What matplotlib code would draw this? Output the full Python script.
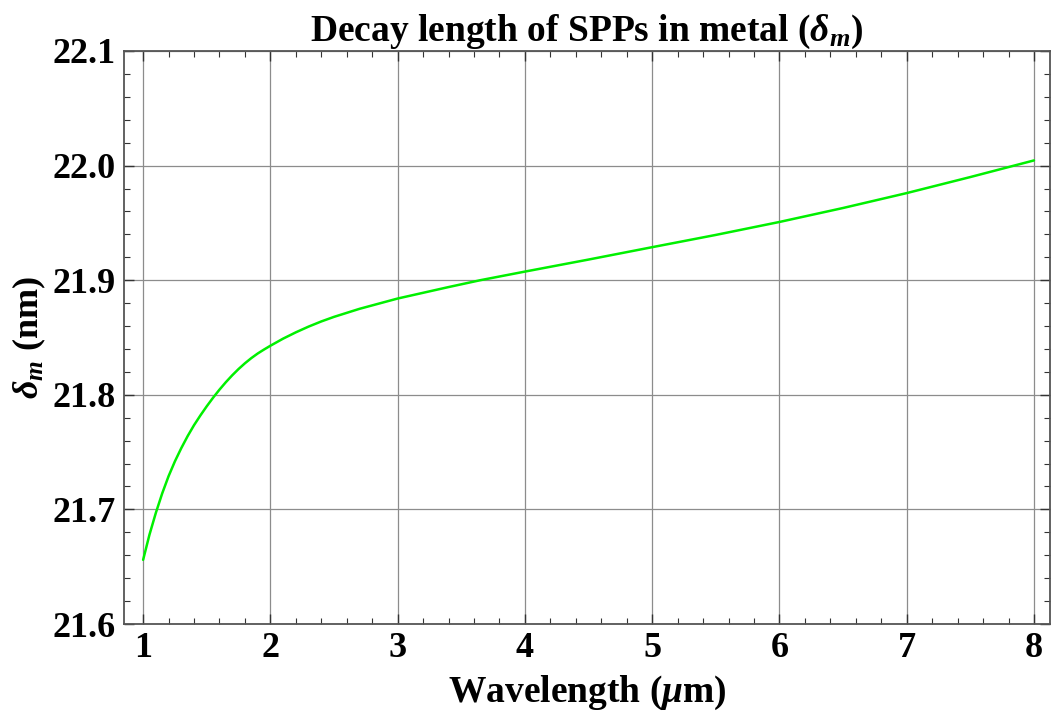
import matplotlib
matplotlib.use("Agg")
import matplotlib.pyplot as plt
from matplotlib.ticker import MultipleLocator

# Data
wavelength_um = [1.00, 1.05, 1.10, 1.15, 1.20, 1.25, 1.30, 1.35, 1.40, 1.45,
                 1.50, 1.55, 1.60, 1.65, 1.70, 1.75, 1.80, 1.85, 1.90, 1.95,
                 2.0, 2.1, 2.2, 2.3, 2.4, 2.5, 2.6, 2.7, 2.8, 2.9,
                 3.0, 3.2, 3.4, 3.65, 4.0, 4.5, 5.0, 5.5, 6.0, 6.5,
                 7.0, 7.5, 8.0]
delta_m_nm = [21.656, 21.678, 21.697, 21.714, 21.729, 21.742, 21.7535, 21.764,
              21.7735, 21.782, 21.790, 21.7975, 21.8045, 21.811, 21.817,
              21.8225, 21.8275, 21.832, 21.836, 21.8395,
              21.8428, 21.849, 21.8545, 21.8595, 21.864, 21.868, 21.8715,
              21.875, 21.878, 21.881,
              21.884, 21.889, 21.894, 21.900, 21.9075, 21.918, 21.9288,
              21.9395, 21.9508, 21.963, 21.976, 21.990, 22.0045]
x_ticks = [1, 2, 3, 4, 5, 6, 7, 8]
y_ticks = [21.6, 21.7, 21.8, 21.9, 22.0, 22.1]
y_tick_labels = ["21.6", "21.7", "21.8", "21.9", "22.0", "22.1"]

plt.rcParams["font.family"] = ["Liberation Serif", "DejaVu Serif"]
plt.rcParams["font.weight"] = "bold"
plt.rcParams["mathtext.fontset"] = "custom"
plt.rcParams["mathtext.rm"] = "Liberation Serif:bold"
plt.rcParams["mathtext.it"] = "Liberation Serif:italic:bold"
plt.rcParams["mathtext.bf"] = "Liberation Serif:bold"

fig = plt.figure(figsize=(10.52, 7.24), dpi=100)
ax = fig.add_axes([0.1179, 0.1381, 0.8801, 0.7915])

ax.plot(wavelength_um, delta_m_nm, color="#00f000", lw=1.8,
        solid_capstyle="round", solid_joinstyle="round")

ax.set_xlim(0.85, 8.125)
ax.set_ylim(21.6, 22.1)
ax.set_xticks(x_ticks)
ax.set_yticks(y_ticks)
ax.set_yticklabels(y_tick_labels)
ax.xaxis.set_minor_locator(MultipleLocator(0.2))
ax.yaxis.set_minor_locator(MultipleLocator(0.02))

ax.grid(True, which="major", color="#8c8c8c", lw=0.9)
ax.set_axisbelow(True)

ax.tick_params(which="both", direction="in", top=True, right=True,
               colors="#333333", labelcolor="black")
ax.tick_params(which="major", length=7, width=1.0, labelsize=26, pad=6)
ax.tick_params(which="minor", length=4, width=0.8)
for lab in ax.get_xticklabels() + ax.get_yticklabels():
    lab.set_fontweight("bold")

for s in ax.spines.values():
    s.set_color("#555555")
    s.set_linewidth(1.3)

ax.set_title(r"Decay length of SPPs in metal ($\delta_m$)", fontsize=27,
             fontweight="bold", pad=5)
ax.set_xlabel(r"Wavelength ($\mu$m)", fontsize=27, fontweight="bold", labelpad=6)
ax.set_ylabel(r"$\delta_m$ (nm)", fontsize=26, fontweight="bold", labelpad=3)

fig.savefig("out.png", dpi=100)
